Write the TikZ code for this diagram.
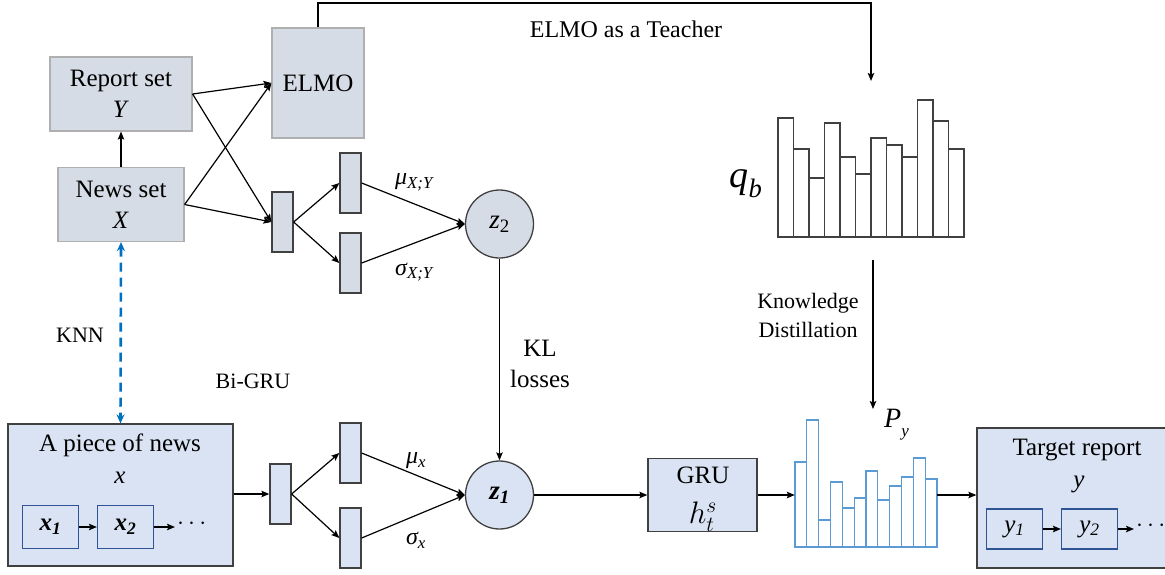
\documentclass[tikz,border=0pt]{standalone}
\usepackage{fontspec}
\usepackage{graphicx}
\setmainfont{Liberation Serif}
\usetikzlibrary{arrows.meta}
\definecolor{grayfill}{HTML}{D6DCE5}
\definecolor{bluefill}{HTML}{DAE3F3}
\definecolor{lightborder}{HTML}{AFAFAF}
\definecolor{darkborder}{HTML}{404040}
\definecolor{navy}{HTML}{2F5597}
\definecolor{knnblue}{HTML}{0070C0}
\definecolor{barblue}{HTML}{5B9BD5}
\begin{document}
\begin{tikzpicture}[x=1pt,y=-1pt,
  arr/.style={line width=1.2pt, -{Stealth[length=8pt,width=6.5pt,inset=1.5pt]}},
  setbox/.style={draw=lightborder, fill=grayfill, line width=1.2pt, inner sep=0pt, align=center, font=\fontsize{25}{31}\selectfont},
  layerU/.style={draw=darkborder, fill=grayfill, line width=1.3pt, minimum width=21pt, minimum height=60pt, inner sep=0pt},
  layerL/.style={layerU, fill=bluefill},
  bigbox/.style={draw=darkborder, fill=bluefill, line width=1.3pt, inner sep=0pt},
  tok/.style={draw=navy, fill=bluefill, line width=1.2pt, minimum width=56pt, minimum height=43pt, inner sep=0pt},
  latent/.style={circle, draw=darkborder, fill=grayfill, line width=1.3pt, minimum size=68pt, inner sep=0pt, font=\fontsize{27}{30}\selectfont\itshape},
  lbl/.style={inner sep=0pt, align=center, font=\fontsize{25}{31}\selectfont},
  smalllbl/.style={inner sep=0pt, align=center, font=\fontsize{22}{29}\selectfont},
  mathlbl/.style={inner sep=0pt, font=\fontsize{24}{28}\selectfont\itshape},
  bar/.style={draw=darkborder, fill=white, line width=1.1pt},
  pbar/.style={draw=barblue, fill=white, line width=1.1pt},
]
\useasboundingbox (0,0) rectangle (1165,574);

% ---------- upper part ----------
\node[setbox, minimum width=142pt, minimum height=74pt] (rep) at (121,94) {Report set\\\textit{Y}};
\node[setbox, minimum width=126pt, minimum height=74pt] (news) at (121,204.5) {News set\\\textit{X}};
\node[setbox, minimum width=92pt, minimum height=110pt] (elmo) at (318,83) {ELMO};

\node[layerU] (g1) at (282.5,222) {};
\node[layerU] (muXY) at (350.5,183) {};
\node[layerU] (sgXY) at (350.5,263) {};
\node[latent] (z2) at (499.5,224) {z\textsubscript{\upshape 2}};

\draw[arr] (news.north) -- (rep.south);
\draw[arr] (rep.east) -- (elmo.west);
\draw[arr] (rep.east) -- (g1.west);
\draw[arr] (news.east) -- (elmo.west);
\draw[arr] (news.east) -- (g1.west);
\draw[arr] (g1.east) -- (muXY.west);
\draw[arr] (g1.east) -- (sgXY.west);
\draw[arr] (muXY.east) -- (z2.west);
\draw[arr] (sgXY.east) -- (z2.west);
\node[mathlbl] (lmuXY) at (414,182) {μ\textsubscript{X;Y}};
\node[mathlbl] (lsgXY) at (414,272) {σ\textsubscript{X;Y}};

% ELMO as teacher
\coordinate (topc) at (871,3);
\coordinate (qin) at (871,81);
\draw[arr] (elmo.north) |- (topc) -- (qin);
\node[inner sep=0pt, font=\fontsize{24}{28}\selectfont] (teacher) at (626,29) {ELMO as a Teacher};

% q_b histogram
\node[inner sep=0pt, minimum width=186pt, minimum height=137pt] (qb) at (871,168.5) {};
\foreach \i/\t in {0/118,1/149,2/178,3/123,4/157,5/174,6/138,7/145,8/157,9/100,10/121,11/149}
  \draw[bar] (778+\i*15.5,237) rectangle (778+\i*15.5+15.5,\t);
\node[inner sep=0pt, font=\fontsize{38}{40}\selectfont] (qblbl) at (746,184) {\textit{q}\textsubscript{\textit{b}}};

% knowledge distillation
\coordinate (kds) at (873,260);
\coordinate (kde) at (873,409);
\draw[arr] (kds) -- (kde);
\node[smalllbl] (kd) at (808,315) {Knowledge\\Distillation};

% KNN
\node[smalllbl] (knn) at (80,335) {KNN};
\node[smalllbl] (bigru) at (253,381) {Bi-GRU};

% ---------- lower part ----------
\node[bigbox, minimum width=225pt, minimum height=142pt] (piece) at (120.5,495) {};
\node[lbl] (piecet) at (120,445) {A piece of news};
\node[lbl] (piecex) at (120,478) {\textit{x}};
\node[tok] (x1) at (50.5,527) {\fontsize{25}{30}\selectfont\bfseries\itshape x\textsubscript{1}};
\node[tok] (x2) at (125.5,527) {\fontsize{25}{30}\selectfont\bfseries\itshape x\textsubscript{2}};
\coordinate (xd) at (175,527);
\draw[arr] (x1.east) -- (x2.west);
\draw[arr] (x2.east) -- (xd);
\node[inner sep=0pt, font=\fontsize{25}{30}\selectfont, anchor=west] (xdots) at (177,524) {$\cdots$};

\draw[knnblue, line width=2.6pt, dash pattern=on 9pt off 6pt, {Stealth[length=9pt,width=8pt]}-{Stealth[length=9pt,width=8pt]}] (news.south) -- (piece.north);

\node[layerL] (g2) at (280.5,494) {};
\node[layerL] (mux) at (350.5,453) {};
\node[layerL] (sgx) at (350.5,538) {};
\node[latent, fill=bluefill] (z1) at (499.5,495) {\bfseries z\textsubscript{1}};

\draw[arr] (piece.east |- g2.west) -- (g2.west);
\draw[arr] (g2.east) -- (mux.west);
\draw[arr] (g2.east) -- (sgx.west);
\draw[arr] (mux.east) -- (z1.west);
\draw[arr] (sgx.east) -- (z1.west);
\node[mathlbl] (lmux) at (416,461) {μ\textsubscript{x}};
\node[mathlbl] (lsgx) at (416,540) {σ\textsubscript{x}};

\draw[arr] (z2.south) -- (z1.north);
\node[lbl] (kl) at (540,364) {KL\\losses};

\node[bigbox, minimum width=109pt, minimum height=73pt] (gru) at (702.5,495) {};
\node[lbl] (grut) at (703,475) {GRU};
\node[inner sep=0pt] (gruh) at (703,517) {\scalebox{1.25}{\fontsize{24}{28}\selectfont$h_t^s$}};
\draw[arr] (z1.east) -- (gru.west);

% P_y histogram
\node[inner sep=0pt, minimum width=142pt, minimum height=127pt] (py) at (866,483.5) {};
\foreach \i/\t in {0/462,1/420,2/520,3/482,4/508,5/498,6/471,7/500,8/486,9/477,10/458,11/479}
  \draw[pbar] (795+\i*11.83,547) rectangle (795+\i*11.83+11.83,\t);
\node[inner sep=0pt, font=\fontsize{28}{30}\selectfont, anchor=west] (pylbl) at (884,425) {\textit{P}\raisebox{-9pt}{\fontsize{17}{20}\selectfont\textit{y}}};
\draw[arr] (gru.east) -- (py.west |- gru.east);

\node[bigbox, minimum width=210pt, minimum height=140pt] (target) at (1082,498) {};
\node[lbl] (targett) at (1077,450) {Target report};
\node[lbl] (targety) at (1079,484) {\textit{y}};
\node[tok, minimum width=56pt, minimum height=40pt] (y1) at (1014.5,529) {\fontsize{25}{30}\selectfont\itshape y\textsubscript{1}};
\node[tok, minimum width=56pt, minimum height=40pt] (y2) at (1089.5,529) {\fontsize{25}{30}\selectfont\itshape y\textsubscript{2}};
\coordinate (yd) at (1134,529);
\draw[arr] (y1.east) -- (y2.west);
\draw[arr] (y2.east) -- (yd);
\node[inner sep=0pt, font=\fontsize{25}{30}\selectfont, anchor=west] (ydots) at (1136,526) {$\cdots$};
\draw[arr] (py.east |- gru.east) -- (target.west |- gru.east);
\end{tikzpicture}
\end{document}
